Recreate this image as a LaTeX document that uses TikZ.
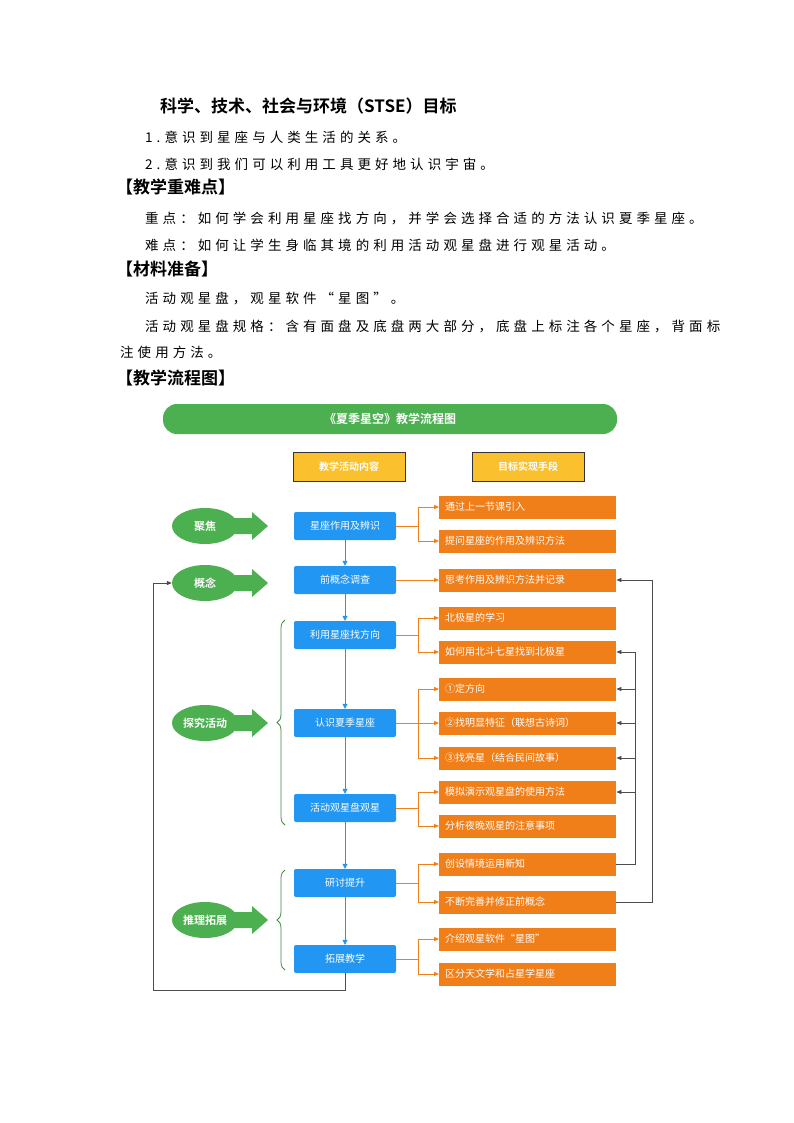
\documentclass[tikz,border=0pt]{standalone}
\usepackage{fontspec}
\setmainfont{Noto Sans CJK SC}
\newfontfamily\cjkbold{Noto Sans CJK SC Bold}
\newfontfamily\bodyfont[LetterSpace=30]{Noto Sans CJK SC}
\usetikzlibrary{arrows.meta,shapes.geometric,decorations.pathreplacing}
\definecolor{stgreen}{HTML}{4CAF50}
\definecolor{stblue}{HTML}{2196F3}
\definecolor{storange}{HTML}{F07F1A}
\definecolor{styellow}{HTML}{FBC02D}
\tikzset{
  bodytext/.style={anchor=west,inner sep=0pt,font=\bodyfont\fontsize{13.5}{15}\selectfont},
  headtext/.style={anchor=west,inner sep=0pt,font=\cjkbold\fontsize{17}{19}\selectfont},
  stepbox/.style={fill=stblue,rounded corners=2pt,minimum width=102pt,minimum height=28pt,text=white,font=\fontsize{10}{12}\selectfont},
  goalbox/.style={fill=storange,minimum width=177pt,minimum height=23pt,text=white,anchor=west,text width=165pt,align=left,font=\fontsize{10}{12}\selectfont},
  stage/.style={ellipse,fill=stgreen,minimum width=66pt,minimum height=36pt,inner sep=0pt,text=white,font=\cjkbold\fontsize{11}{13}\selectfont},
  headbox/.style={fill=styellow,draw=black!80,line width=1pt,minimum width=112pt,minimum height=29pt,text=white,font=\cjkbold\fontsize{10}{12}\selectfont},
  flow/.style={stblue,thick,-{Triangle[length=5pt,width=5pt]}},
  branch/.style={storange,thick,-{Triangle[length=5pt,width=4pt]}},
  back/.style={black!70,thick,-{Triangle[length=5pt,width=4pt]}}
}
\begin{document}
\begin{tikzpicture}[x=1pt,y=-1pt]
\useasboundingbox[fill=white] (0,0) rectangle (794,1123);
% text part
\node[anchor=west,inner sep=0pt,font=\cjkbold\fontsize{17}{19}\selectfont] (goal) at (160,106) {科学、技术、社会与环境（STSE）目标};
\node[bodytext] (g1) at (145,137) {1.意识到星座与人类生活的关系。};
\node[bodytext] (g2) at (145,164) {2.意识到我们可以利用工具更好地认识宇宙。};
\node[headtext] (h1) at (116,187) {【教学重难点】};
\node[bodytext] (k1) at (145,218) {重点：如何学会利用星座找方向，并学会选择合适的方法认识夏季星座。};
\node[bodytext] (k2) at (145,245) {难点：如何让学生身临其境的利用活动观星盘进行观星活动。};
\node[headtext] (h2) at (116,269) {【材料准备】};
\node[bodytext] (m1) at (145,298) {活动观星盘，观星软件“星图”。};
\node[bodytext] (m2) at (145,326) {活动观星盘规格：含有面盘及底盘两大部分，底盘上标注各个星座，背面标};
\node[bodytext] (m3) at (120,352) {注使用方法。};
\node[headtext] (h3) at (116,378) {【教学流程图】};

% chart header
\node[fill=stgreen,rounded corners=14pt,minimum width=454pt,minimum height=30pt,text=white,font=\cjkbold\fontsize{12}{14}\selectfont] (banner) at (390,419) {《夏季星空》教学流程图};
\node[headbox] (colA) at (349,467) {教学活动内容};
\node[headbox] (colB) at (528,467) {目标实现手段};

% steps
\node[stepbox] (s1) at (345,526) {星座作用及辨识};
\node[stepbox] (s2) at (345,580) {前概念调查};
\node[stepbox] (s3) at (345,635) {利用星座找方向};
\node[stepbox] (s4) at (345,723) {认识夏季星座};
\node[stepbox] (s5) at (345,808) {活动观星盘观星};
\node[stepbox] (s6) at (345,883) {研讨提升};
\node[stepbox] (s7) at (345,959) {拓展教学};
\foreach \a/\b in {s1/s2,s2/s3,s3/s4,s4/s5,s5/s6,s6/s7}
  \draw[flow] (\a) -- (\b);

% goals
\node[goalbox] (t1) at (439,507) {通过上一节课引入};
\node[goalbox] (t2) at (439,541) {提问星座的作用及辨识方法};
\node[goalbox] (t3) at (439,580) {思考作用及辨识方法并记录};
\node[goalbox] (t4) at (439,618) {北极星的学习};
\node[goalbox] (t5) at (439,652) {如何用北斗七星找到北极星};
\node[goalbox] (t6) at (439,689) {①定方向};
\node[goalbox] (t7) at (439,723) {②找明显特征（联想古诗词）};
\node[goalbox] (t8) at (439,758) {③找亮星（结合民间故事）};
\node[goalbox] (t9) at (439,792) {模拟演示观星盘的使用方法};
\node[goalbox] (t10) at (439,826) {分析夜晚观星的注意事项};
\node[goalbox] (t11) at (439,864) {创设情境运用新知};
\node[goalbox] (t12) at (439,902) {不断完善并修正前概念};
\node[goalbox] (t13) at (439,939) {介绍观星软件“星图”};
\node[goalbox] (t14) at (439,974) {区分天文学和占星学星座};
\foreach \s/\t in {s1/t1,s1/t2,s3/t4,s3/t5,s4/t6,s4/t8,s5/t9,s5/t10,s6/t11,s6/t12,s7/t13,s7/t14}
  \draw[branch] (\s.east) -- (418,0 |- \s.east) |- (\t.west);
\draw[branch] (s2) -- (t3);
\draw[branch] (s4) -- (t7);

% feedback
\foreach \t in {t5,t6,t7,t8,t9}
  \draw[back] (t11.east) -- ++(19,0) |- (\t.east);
\draw[back] (t12.east) -- ++(36,0) |- (t3.east);

% stages
\foreach \n/\y/\txt in {e1/526/聚焦,e2/583/概念,e3/723/探究活动,e4/920/推理拓展}{
  \node[stage] (\n) at (205,\y) {\txt};
  \fill[stgreen] (235,\y-8) -- (252,\y-8) -- (252,\y-14) -- (268,\y) -- (252,\y+14) -- (252,\y+8) -- (235,\y+8) -- cycle;
}
\draw[stgreen!80!black,thick,decorate,decoration={brace,amplitude=8pt}] (285,825) -- (285,620);
\draw[stgreen!80!black,thick,decorate,decoration={brace,amplitude=8pt}] (285,970) -- (285,870);

% loop back
\draw[back] (s7.south) -- (345,990) -- (153,990) |- (e2.west);
\end{tikzpicture}
\end{document}
